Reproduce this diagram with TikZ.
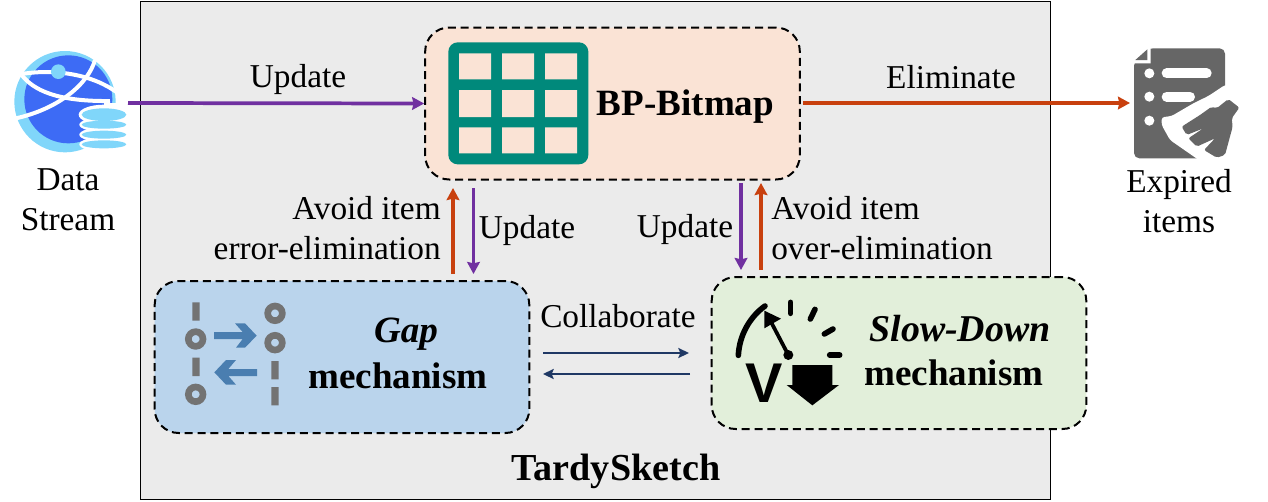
\documentclass[tikz,border=0pt]{standalone}
\usepackage{fontspec}
\setmainfont{Liberation Serif}
\newfontfamily\sansbold{Liberation Sans}
\usetikzlibrary{arrows.meta}
\definecolor{panelgray}{HTML}{EBEBEB}
\definecolor{bitmapfill}{HTML}{FAE3D5}
\definecolor{gapfill}{HTML}{BAD4EC}
\definecolor{slowfill}{HTML}{E2EFDA}
\definecolor{updatepurple}{HTML}{7030A0}
\definecolor{elimorange}{HTML}{C8400E}
\definecolor{collabnavy}{HTML}{1F3864}
\definecolor{gridteal}{HTML}{00897B}
\definecolor{globeblue}{HTML}{3D6BF5}
\definecolor{globelight}{HTML}{80D6FA}
\definecolor{iconarrow}{HTML}{4A7EB0}
\definecolor{icongray}{HTML}{737373}
\definecolor{docgray}{HTML}{666666}

\begin{document}
\begin{tikzpicture}[x=0.75pt,y=-0.75pt]

\tikzstyle{mechbox} = [draw, line width=1.5pt, dash pattern=on 6pt off 3.6pt, rounded corners=18pt, inner sep=0pt, minimum width=281pt, minimum height=114pt]
\tikzstyle{label} = [font=\fontsize{25}{30}\selectfont, align=center, inner sep=0pt]
\tikzstyle{title} = [font=\fontsize{27.8}{33}\selectfont\bfseries, inner sep=0pt]
\tikzstyle{purplearrow} = [updatepurple, line width=2.8pt, -{Stealth[length=9pt,width=9.5pt,inset=1pt]}]
\tikzstyle{orangearrow} = [elimorange, line width=2.8pt, -{Stealth[length=9pt,width=9.5pt,inset=1pt]}]
\tikzstyle{navyarrow} = [collabnavy, line width=1.7pt, -{Stealth[length=8pt,width=7.5pt,inset=1.5pt]}]

\useasboundingbox (0,0) rectangle (1268,501);

% Outer panel
\node (panel) [draw, line width=0.9pt, fill=panelgray, inner sep=0pt, minimum width=683pt, minimum height=373.5pt] at (595.5,250.5) {};
\node (sketch) [title, font=\fontsize{28.6}{33}\selectfont\bfseries] at (616,471) {TardySketch};

% Three boxes
\node (bitmap) [mechbox, fill=bitmapfill] at (612.5,103.5) {};
\node (gap) [mechbox, fill=gapfill] at (342,357) {};
\node (slow) [mechbox, fill=slowfill] at (899,353) {};

% Bitmap icon
\begin{scope}[shift={(420,20)},x=0.25pt,y=-0.25pt]
\fill [gridteal, rounded corners=7pt] (85,67) rectangle (505,433);
\fill [bitmapfill] (117,100) rectangle (213,178) (246,100) rectangle (342,178) (375,100) rectangle (471,178);
\fill [bitmapfill] (117,210) rectangle (213,291) (246,210) rectangle (342,291) (375,210) rectangle (471,291);
\fill [bitmapfill] (117,322) rectangle (213,400) (246,322) rectangle (342,400) (375,322) rectangle (471,400);
\end{scope}
\node (bitmaptext) [title] at (685.5,107) {BP-Bitmap};

% Gap icon
\begin{scope}[shift={(150,275)},x=0.25pt,y=-0.25pt]
\fill [icongray] (127,82) rectangle (149,137) (127,248) rectangle (149,303);
\fill [icongray] (364,258) rectangle (386,313) (364,336) rectangle (386,391);
\draw [icongray, line width=5pt] (137,192) circle [radius=22] (137,358) circle [radius=22];
\draw [icongray, line width=5pt] (375,115) circle [radius=22] (375,203) circle [radius=22];
\fill [iconarrow] (192,171) -- (278,171) -- (255,145) -- (285,145) -- (320,182) -- (285,218) -- (258,218) -- (278,192) -- (192,192) -- cycle;
\fill [iconarrow] (321,282) -- (235,282) -- (258,255) -- (228,255) -- (193,292) -- (228,329) -- (258,329) -- (235,303) -- (321,303) -- cycle;
\end{scope}
\node (gaptext) [title, font=\fontsize{27.8}{33}\selectfont\bfseries\itshape] at (406,334) {Gap};
\node (gapmech) [title] at (398,376) {mechanism};

% Slow-Down icon
\begin{scope}[shift={(705,270)},x=0.25pt,y=-0.25pt]
\draw [line width=4.2pt, line cap=round] (100,256) .. controls (103,195) and (135,140) .. (180,108);
\draw [line width=2.8pt] (250,255) -- (195,150);
\fill (178,122) -- (228,146) -- (178,175) -- cycle;
\fill (250,255) circle [radius=15];
\draw [line width=4.2pt, line cap=round] (257,97) -- (257,130);
\draw [line width=4.2pt, line cap=round] (330,118) -- (316,147);
\draw [line width=4.2pt, line cap=round] (384,177) -- (358,192);
\draw [line width=4.2pt, line cap=round] (374,255) -- (404,255);
\fill (262,285) -- (382,285) -- (382,345) -- (402,345) -- (322,406) -- (245,345) -- (262,345) -- cycle;
\node (vmark) [inner sep=0pt, font=\fontsize{42}{42}\selectfont\sansbold\bfseries] at (177,340) {V};
\end{scope}
\node (slowtext) [title, font=\fontsize{28.4}{33}\selectfont\bfseries\itshape] at (960,329) {Slow-Down};
\node (slowmech) [title] at (954,373) {mechanism};

% Data stream icon
\begin{scope}[shift={(0,40)},x=0.25pt,y=-0.25pt]
\fill [globelight] (195,185) circle [radius=152];
\fill [globeblue] (205,178) circle [radius=132];
\draw [white, line width=3pt] (65,102) .. controls (170,85) and (280,105) .. (352,158);
\draw [white, line width=3pt] (285,60) .. controls (265,130) and (180,205) .. (48,235);
\draw [white, line width=3pt] (65,105) .. controls (100,150) and (170,185) .. (330,183);
\fill [globelight] (175,95) circle [radius=22];
\fill [white] (312,190) rectangle (385,335);
\fill [white] (312,224) ellipse [x radius=76, y radius=30];
\fill [white] (312,254) ellipse [x radius=74, y radius=22];
\fill [white] (312,284) ellipse [x radius=74, y radius=22];
\fill [white] (312,313) ellipse [x radius=74, y radius=22];
\fill [globelight] (312,224) ellipse [x radius=67, y radius=19];
\fill [globelight] (312,254) ellipse [x radius=67, y radius=12];
\fill [globelight] (312,284) ellipse [x radius=67, y radius=12];
\fill [globelight] (312,313) ellipse [x radius=67, y radius=12];
\end{scope}
\node (stream) [label] at (68,200) {Data\\Stream};

% Expired items icon
\begin{scope}[shift={(1110,30)},x=0.25pt,y=-0.25pt]
\fill [docgray, rounded corners=4pt] (115,55) -- (345,55) -- (345,385) -- (72,385) -- (72,95) -- cycle;
\fill [white] (72,92) -- (112,55) -- (122,55) -- (122,100) -- (72,100) -- cycle;
\fill [docgray] (76,90) -- (112,90) -- (112,58) -- cycle;
\fill [white] (118,130) circle [radius=15] (118,200) circle [radius=15] (118,272) circle [radius=15];
\draw [white, line width=7.5pt, line cap=round] (170,130) -- (290,130);
\draw [white, line width=7.5pt, line cap=round] (170,200) -- (240,200);
\fill [white, rounded corners=2pt] (155,262) -- (185,258) -- (250,220) -- (295,198) -- (345,165) -- (400,165) -- (400,395) -- (272,395) -- (262,387) -- (180,330) -- (155,285) -- cycle;
\fill [docgray, rounded corners=1.5pt] (215,290) -- (270,255) -- (305,230) -- (320,235) -- (355,207) -- (388,233) -- (365,265) -- (368,290) -- (345,375) -- (320,383) -- (282,360) -- (315,325) -- (260,350) -- (235,325) -- (280,295) -- (230,315) -- cycle;
\end{scope}
\node (expired) [label] at (1179,201) {Expired\\items};

% Free ends of the arrows
\coordinate (streamout) at (128,103);
\coordinate (elimout) at (803,103);
\coordinate (elimin) at (1130,103);
\coordinate (avoidgapa) at (453,274);
\coordinate (avoidgapb) at (453,188);
\coordinate (updgapa) at (473.5,188);
\coordinate (updgapb) at (473.5,274);
\coordinate (updslowa) at (741,183);
\coordinate (updslowb) at (741,270);
\coordinate (avoidslowa) at (761,270);
\coordinate (avoidslowb) at (761,183);
\coordinate (collabaa) at (543,353);
\coordinate (collabab) at (689,353);
\coordinate (collabba) at (690,374);
\coordinate (collabbb) at (543,374);

% Arrows
\draw [purplearrow] (streamout) -- (bitmap.west);
\draw [orangearrow] (elimout) -- (elimin);
\draw [orangearrow] (avoidgapa) -- (avoidgapb);
\draw [purplearrow] (updgapa) -- (updgapb);
\draw [purplearrow] (updslowa) -- (updslowb);
\draw [orangearrow] (avoidslowa) -- (avoidslowb);
\draw [navyarrow] (collabaa) -- (collabab);
\draw [navyarrow] (collabba) -- (collabbb);

% Arrow labels
\node (updatetop) [label] at (298,79) {Update};
\node (elimtext) [label] at (951,77) {Eliminate};
\node (avoidleft) [label, align=right, anchor=east] at (441,228) {Avoid item\\error-elimination};
\node (updleft) [label] at (527,230) {Update};
\node (updright) [label] at (685,229) {Update};
\node (avoidright) [label, align=left, anchor=west] at (771,228) {Avoid item\\over-elimination};
\node (collabtext) [label] at (618,316) {Collaborate};

\end{tikzpicture}
\end{document}
